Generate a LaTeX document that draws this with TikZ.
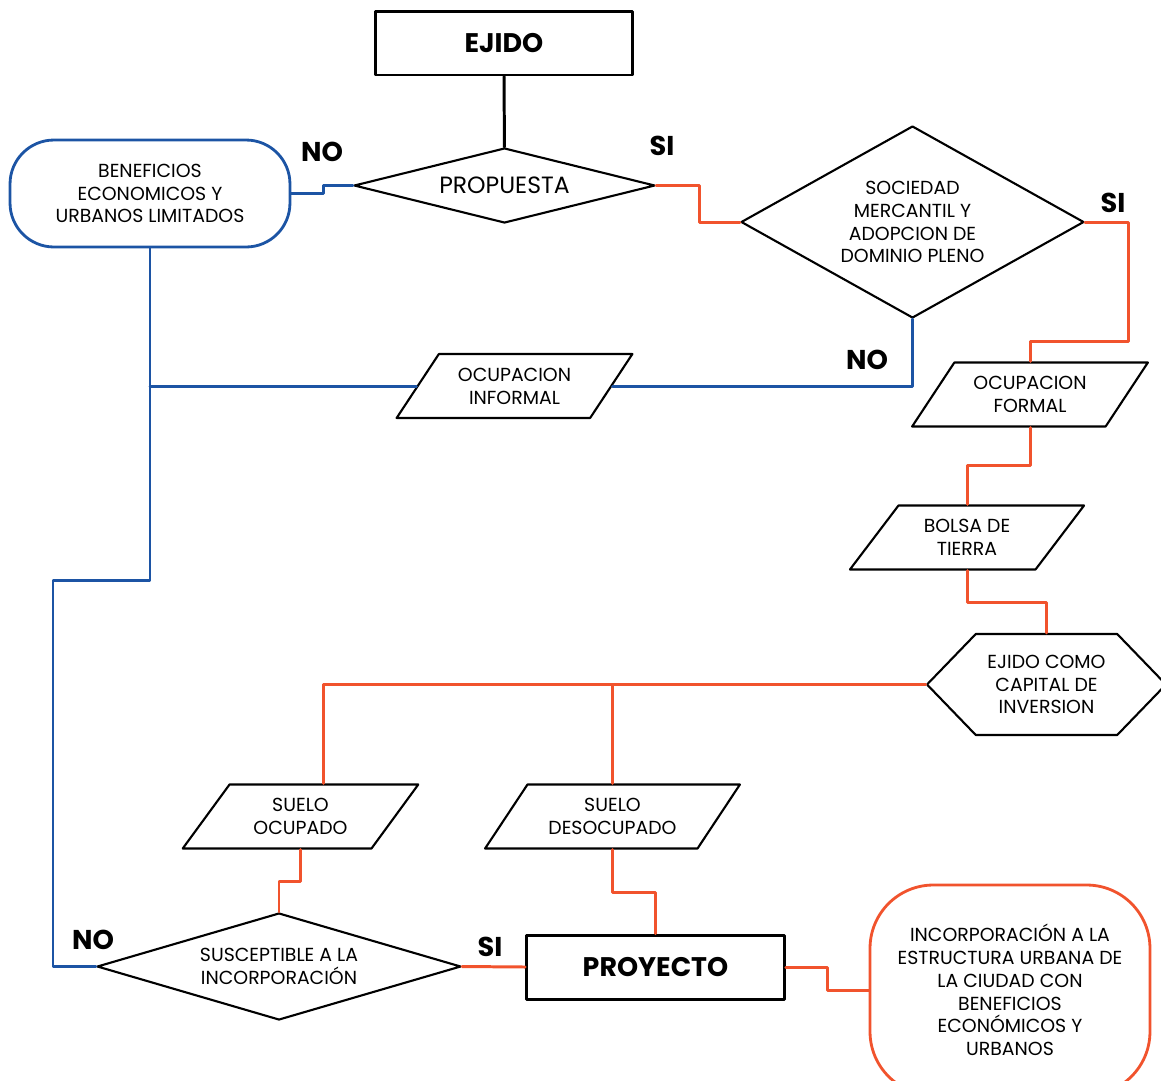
\documentclass[tikz,border=0pt]{standalone}
\usepackage{fontspec}
\setmainfont{Poppins}
\usetikzlibrary{shapes.geometric,shapes.symbols}
\definecolor{azul}{RGB}{28,84,164}
\definecolor{naranja}{RGB}{241,83,45}
\begin{document}
\begin{tikzpicture}[x=0.02cm,y=-0.02cm,line join=round,line cap=round,
	font=\fontsize{10.75}{13}\selectfont,
	caja/.style={draw,line width=1.7pt,minimum width=5.16cm,minimum height=1.28cm,font=\fontsize{15.3}{18}\selectfont\bfseries},
	rombo/.style={draw,diamond,line width=1.2pt,inner sep=0pt,align=center},
	datos/.style={draw,trapezium,trapezium left angle=54,trapezium right angle=126,trapezium stretches=true,line width=1.2pt,align=center,minimum width=4.72cm,minimum height=1.28cm},
	fin/.style={rounded corners=25pt,line width=1.6pt,align=center},
	etiq/.style={font=\fontsize{15.5}{18}\selectfont\bfseries},
	azl/.style={azul,line width=1.7pt},
	nar/.style={naranja,line width=1.7pt}]
	\useasboundingbox (0,0) rectangle (1161,1080);
	%Cajas
	\node[caja] (ejido) at (504,43) {EJIDO};
	\node[caja] (proy) at (655.5,967) {PROYECTO};
	%Rombos
	\node[rombo,aspect=4,minimum width=6.02cm,minimum height=1.5cm,font=\fontsize{13.4}{15}\selectfont] (prop) at (504.5,185.5) {PROPUESTA};
	\node[rombo,aspect=1.79,minimum width=6.86cm,minimum height=3.84cm] (soc) at (912.5,222) {SOCIEDAD\\MERCANTIL Y\\ADOPCION DE\\DOMINIO PLENO};
	\node[rombo,aspect=3.4,minimum width=7.28cm,minimum height=2.14cm] (susc) at (279,966.5) {SUSCEPTIBLE A LA\\INCORPORACIÓN};
	%Terminales
	\node[fin,draw=azul,minimum width=5.6cm,minimum height=2.14cm] (benef) at (150,193.5) {BENEFICIOS\\ECONOMICOS Y\\URBANOS LIMITADOS};
	\node[fin,draw=naranja,rounded corners=36pt,minimum width=5.6cm,minimum height=4.2cm] (incorp) at (1010,990) {INCORPORACIÓN A LA\\ESTRUCTURA URBANA DE\\LA CIUDAD CON\\BENEFICIOS\\ECONÓMICOS Y\\URBANOS};
	%Datos
	\node[datos] (inf) at (514.5,386) {OCUPACION\\INFORMAL};
	\node[datos] (form) at (1030,394.5) {OCUPACION\\FORMAL};
	\node[datos] (bolsa) at (967,537.5) {BOLSA DE\\TIERRA};
	\node[datos] (ocup) at (300.5,816.5) {SUELO\\OCUPADO};
	\node[datos,minimum width=5.1cm] (desoc) at (612.5,816.5) {SUELO\\DESOCUPADO};
	%Hexagono
	\node[draw,signal,signal from=nowhere,signal to=east and west,signal pointer angle=92,line width=1.2pt,align=center,inner sep=0pt,minimum width=4.78cm,minimum height=2.02cm] (hexa) at (1046.5,684.5) {EJIDO COMO\\CAPITAL DE\\INVERSION};
	%Etiquetas
	\node[etiq] (no1) at (322,152) {NO};
	\node[etiq] (si1) at (662,146) {SI};
	\node[etiq] (si2) at (1113,203) {SI};
	\node[etiq] (no2) at (867,360) {NO};
	\node[etiq] (no3) at (93,940) {NO};
	\node[etiq] (si3) at (490,947) {SI};
	%Conectores
	\draw[line width=1.7pt] (ejido) -- (prop);
	\draw[azl] (benef.east) -- ++(32,0) |- (prop.west);
	\draw[nar] (prop.east) -- ++(43,0) |- (soc.west);
	\draw[nar] (soc.east) -- ++(43,0) -- ++(0,119) -| (form.north);
	\draw[azl] (soc.south) |- (inf.east);
	\draw[azl] (inf.west) -- (inf.west -| benef.south);
	\draw[azl] (benef.south) -- ++(0,332) -- ++(-97,0) |- (susc.west);
	\draw[nar] (form.south) -- ++(0,38) -| (bolsa.north);
	\draw[nar] (bolsa.south) -- ++(0,32) -| (hexa.north);
	\draw[nar] (hexa.west) -| ([xshift=0.46cm]ocup.north);
	\draw[nar] (desoc.north) -- (desoc.north |- hexa.west);
	\draw[nar] (ocup.south) -- ++(0,32) -| (susc.north);
	\draw[nar] (desoc.south) -- ++(0,43) -| (proy.north);
	\draw[nar] (susc.east) -- (proy.west);
	\draw[nar] (proy.east) -- ++(42,0) |- (incorp.west);
\end{tikzpicture}
\end{document}
